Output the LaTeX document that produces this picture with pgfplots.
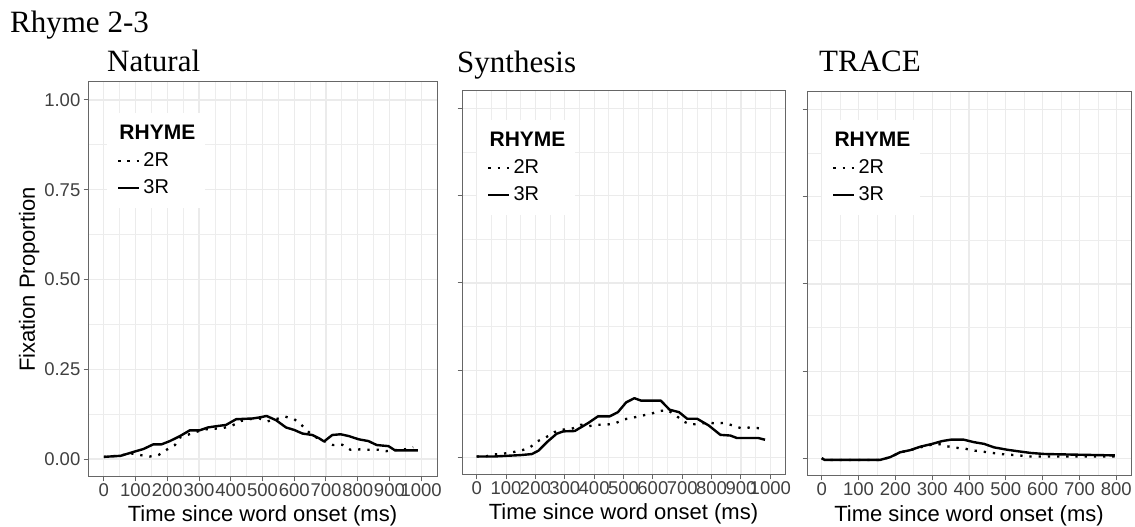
\documentclass[border=0pt]{standalone}
\usepackage{pgfplots}
\pgfplotsset{compat=1.18}
\usepackage{pgfplotstable}
\usepackage{fontspec}
\setmainfont{Liberation Serif}
\newfontfamily\arial{Liberation Sans}

% ---------- Natural ----------
\pgfplotstableread{
t v
0 0.006
30 0.008
58 0.011
84 0.016
115 0.011
144 0.007
172 0.011
198 0.026
224 0.039
240 0.060
292 0.076
323 0.083
375 0.086
406 0.094
432 0.106
458 0.111
490 0.113
516 0.105
572 0.118
600 0.111
624 0.094
647 0.074
673 0.058
694 0.050
722 0.039
751 0.040
777 0.026
809 0.027
834 0.026
864 0.026
890 0.022
918 0.025
949 0.027
975 0.033
}\natTwo
\pgfplotstableread{
t v
0 0.006
53 0.009
94 0.020
125 0.028
156 0.041
182 0.041
208 0.050
240 0.064
271 0.080
302 0.080
328 0.088
359 0.092
385 0.095
417 0.111
469 0.113
491 0.116
513 0.120
543 0.108
574 0.088
600 0.081
626 0.071
657 0.067
678 0.058
694 0.049
720 0.067
746 0.069
772 0.064
803 0.055
834 0.050
860 0.039
897 0.036
918 0.024
990 0.024
}\natThree

% ---------- Synthesis ----------
\pgfplotstableread{
t v
0 0.003
34 0.004
61 0.009
89 0.011
121 0.015
151 0.020
180 0.028
208 0.047
236 0.058
265 0.073
295 0.080
323 0.082
355 0.094
383 0.090
413 0.094
441 0.094
472 0.098
500 0.109
531 0.114
562 0.120
593 0.125
622 0.133
650 0.136
678 0.121
703 0.104
726 0.095
754 0.096
783 0.100
813 0.098
842 0.099
872 0.092
901 0.084
930 0.086
962 0.084
}\synTwo
\pgfplotstableread{
t v
0 0.003
59 0.003
149 0.007
188 0.010
211 0.020
239 0.044
272 0.068
295 0.075
334 0.076
380 0.099
413 0.118
453 0.118
481 0.130
509 0.158
537 0.170
560 0.163
627 0.163
657 0.137
689 0.130
717 0.111
751 0.111
790 0.092
830 0.065
864 0.063
886 0.056
959 0.056
982 0.051
}\synThree

% ---------- TRACE ----------
\pgfplotstableread{
t v
0 0.001
8 -0.004
158 -0.004
186 0.004
213 0.018
240 0.024
268 0.032
300 0.040
320 0.041
341 0.035
363 0.031
386 0.029
413 0.023
436 0.020
464 0.016
486 0.013
509 0.011
537 0.009
559 0.006
796 0.006
}\trcTwo
\pgfplotstableread{
t v
0 0.001
8 -0.004
158 -0.004
186 0.004
213 0.018
240 0.024
268 0.034
300 0.042
327 0.050
350 0.054
386 0.054
413 0.047
441 0.042
468 0.032
505 0.025
532 0.021
568 0.016
605 0.013
696 0.011
796 0.009
}\trcThree

\pgfplotsset{
  panel/.style={
    scale only axis,
    anchor=south west,
    ymin=-0.05, ymax=1.05,
    ytick={0,0.25,0.5,0.75,1},
    minor x tick num=1,
    minor y tick num=1,
    grid=both,
    major grid style={draw=black!8, line width=1.1pt},
    minor grid style={draw=black!7, line width=0.7pt},
    axis line style={draw=black!60, line width=1pt},
    tick align=outside,
    xtick pos=bottom, ytick pos=left,
    major tick length=4.5pt,
    minor tick length=0pt,
    tick style={draw=black!60, line width=1pt},
    tick label style={font=\arial\fontsize{18.5}{20}\selectfont, text=black!75, inner sep=0pt},
    xticklabel style={anchor=north, yshift=-2pt},
    yticklabel style={anchor=east, xshift=-3pt},
    label style={font=\arial\fontsize{22}{24}\selectfont, text=black},
    xlabel={Time since word onset (ms)},
    legend cell align=left,
    legend image code/.code={\draw[##1] (0pt,0pt) -- (21pt,0pt);},
    legend style={draw=none, fill=white, anchor=north west,
      font=\arial\fontsize{20}{22}\selectfont,
      nodes={inner sep=0pt, text height=15pt, text depth=4pt},
      inner xsep=10pt, inner ysep=11pt, row sep=8pt, column sep=3pt},
  },
  r2/.style={black, line width=2.3pt, dash pattern=on 2.3pt off 6.9pt, line cap=butt},
  r3/.style={black, line width=2.4pt, line join=round},
}

\begin{document}
\begin{tikzpicture}[x=1pt,y=1pt]
\useasboundingbox (0,0) rectangle (1135,527);

\node[anchor=base west, inner sep=0pt, font=\fontsize{31}{31}\selectfont] at (10,494) {Rhyme 2-3};
\node[anchor=base west, inner sep=0pt, font=\fontsize{31}{31}\selectfont] at (107,455) {Natural};
\node[anchor=base west, inner sep=0pt, font=\fontsize{31}{31}\selectfont] at (457,454) {Synthesis};
\node[anchor=base west, inner sep=0pt, font=\fontsize{31}{31}\selectfont] at (819,455) {TRACE};

% Natural
\begin{axis}[panel, at={(88pt,50pt)}, width=349pt, height=395pt,
  xmin=-50, xmax=1050,
  xtick={0,100,...,1000},
  xticklabels={0,100,200,300,400,500,600,700,800,900,1000},
  yticklabels={0.00,0.25,0.50,0.75,1.00},
  ylabel={Fixation Proportion},
  ylabel style={at={(axis description cs:-0.1519,0.5)}, anchor=base},
  xlabel style={at={(axis description cs:0.5,-0.1114)}, anchor=base},
  legend style={at={(axis description cs:0.054,0.9215)}},
]
\addlegendimage{empty legend}
\addlegendentry{\hspace{-24pt}\fontsize{21}{22}\selectfont\bfseries RHYME}
\addplot[r2] table[x=t, y=v] {\natTwo};
\addlegendentry{2R}
\addplot[r3] table[x=t, y=v] {\natThree};
\addlegendentry{3R}
\end{axis}

% Synthesis
\begin{axis}[panel, at={(462pt,52pt)}, width=323pt, height=384pt,
  xmin=-50, xmax=1050,
  xtick={0,100,...,1000},
  xticklabels={0,100,200,300,400,500,600,700,800,900,1000},
  yticklabels={},
  xlabel style={at={(axis description cs:0.5,-0.1146)}, anchor=base},
  legend style={at={(axis description cs:0.0464,0.924)}},
]
\addlegendimage{empty legend}
\addlegendentry{\hspace{-24pt}\fontsize{21}{22}\selectfont\bfseries RHYME}
\addplot[r2] table[x=t, y=v] {\synTwo};
\addlegendentry{2R}
\addplot[r3] table[x=t, y=v] {\synThree};
\addlegendentry{3R}
\end{axis}

% TRACE
\begin{axis}[panel, at={(807pt,51pt)}, width=324pt, height=384pt,
  xmin=-40, xmax=840,
  xtick={0,100,...,800},
  xticklabels={0,100,200,300,400,500,600,700,800},
  yticklabels={},
  xlabel style={at={(axis description cs:0.5,-0.1172)}, anchor=base},
  legend style={at={(axis description cs:0.046,0.927)}},
]
\addlegendimage{empty legend}
\addlegendentry{\hspace{-24pt}\fontsize{21}{22}\selectfont\bfseries RHYME}
\addplot[r2] table[x=t, y=v] {\trcTwo};
\addlegendentry{2R}
\addplot[r3] table[x=t, y=v] {\trcThree};
\addlegendentry{3R}
\end{axis}
\end{tikzpicture}
\end{document}
